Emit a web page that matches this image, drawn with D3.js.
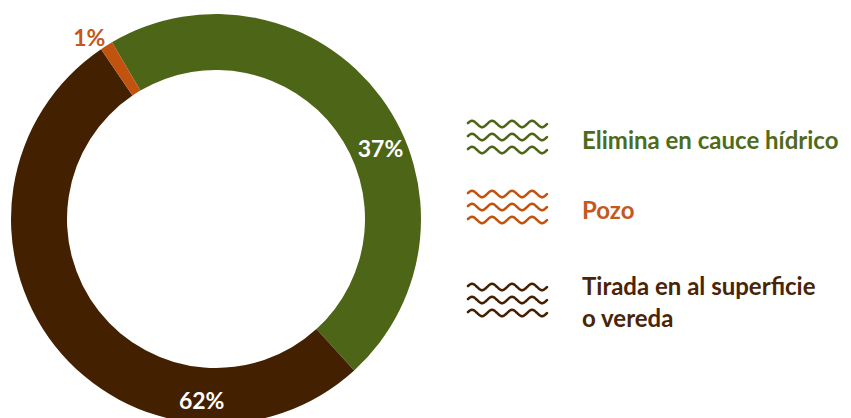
<!DOCTYPE html>
<html><head><meta charset="utf-8">
<script src="https://cdn.jsdelivr.net/npm/d3@7"></script>
<style>html,body{margin:0;padding:0;background:#fff;overflow:hidden}</style>
</head><body>
<script>
// Data
const categories = ["Elimina en cauce hídrico", "Tirada en al superficie o vereda", "Pozo"];
const shares = [46.7, 52.3, 1.0];           // arc shares as drawn
const labels = ["37%", "62%", "1%"];         // labels printed on the chart
const colors = ["#4d6516", "#432000", "#c2530f"];
const textColors = ["#4e6a1c", "#4a2406", "#c4581d"];
const legendOrder = [0, 2, 1];
const legendLines = [["Elimina en cauce hídrico"], ["Pozo"], ["Tirada en al superficie", "o vereda"]];

const W = 851, H = 418;
const svg = d3.select("body").append("svg").attr("width", W).attr("height", H);
const cx = 216, cy = 219, rOut = 205, rIn = 149;
const deg = Math.PI / 180;
const start = -30.5 * deg;

const pie = d3.pie().sort(null).value(d => d).startAngle(start).endAngle(start + 2 * Math.PI);
const arc = d3.arc().innerRadius(rIn).outerRadius(rOut);
const g = svg.append("g").attr("transform", `translate(${cx},${cy})`);
const arcs = pie(shares);
g.selectAll("path").data(arcs).join("path")
  .attr("d", arc).attr("fill", (d, i) => colors[i]);

// label placement (polar, angle from 12 o'clock clockwise)
const labelPlace = [{a: 66.8, r: 179, fill: "#fff"}, {a: 184.5, r: 183, fill: "#fff"}, {a: -35, r: 221, fill: "#c4581d"}];
g.selectAll("text.pct").data(labels).join("text")
  .attr("class", "pct")
  .attr("x", (d, i) => Math.sin(labelPlace[i].a * deg) * labelPlace[i].r)
  .attr("y", (d, i) => -Math.cos(labelPlace[i].a * deg) * labelPlace[i].r)
  .attr("dy", "0.35em")
  .attr("text-anchor", "middle")
  .attr("font-family", "Lato, 'Open Sans', sans-serif")
  .attr("font-weight", "bold")
  .attr("font-size", 23)
  .attr("fill", (d, i) => labelPlace[i].fill)
  .text(d => d);

// Legend
const rowsY = [137, 207, 300];
const line = d3.line().curve(d3.curveBasis);
function wave(y0) {
  const pts = [];
  for (let x = 0; x <= 79; x += 1) pts.push([468 + x, y0 - 3.2 * Math.sin((x / 20) * 2 * Math.PI + 0.3)]);
  return line(pts);
}
legendOrder.forEach((ci, k) => {
  const y = rowsY[k];
  [-13, 0, 13].forEach(off => {
    svg.append("path").attr("d", wave(y + off)).attr("fill", "none")
      .attr("stroke", colors[ci]).attr("stroke-width", 2.5).attr("stroke-linecap", "round");
  });
  const t = svg.append("text")
    .attr("x", 582)
    .attr("font-family", "Lato, 'Open Sans', sans-serif")
    .attr("font-weight", "bold")
    .attr("font-size", 24)
    .attr("fill", textColors[ci]);
  const ls = legendLines[k];
  const baseY = ls.length === 1 ? y + 12 : y - 5;
  ls.forEach((s, j) => t.append("tspan").attr("x", 582).attr("y", baseY + j * 32).text(s));
});
</script>
</body></html>
